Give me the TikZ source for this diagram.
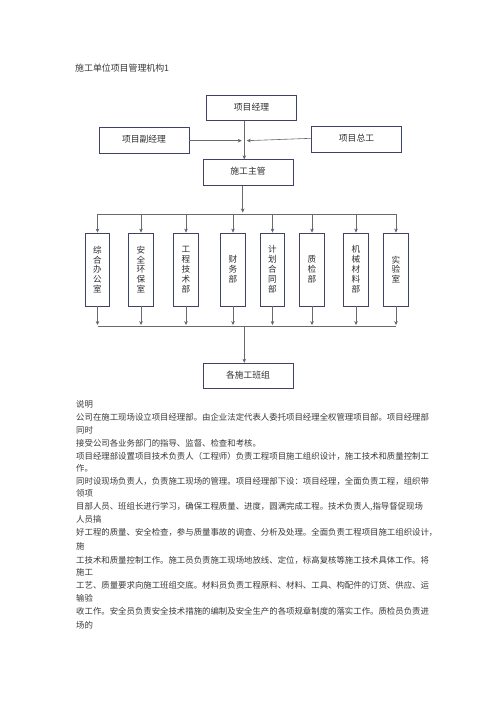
\documentclass[tikz,border=0pt]{standalone}
\usepackage{fontspec}
\setmainfont{Noto Sans CJK SC}
\usetikzlibrary{arrows.meta,calc}
\definecolor{boxc}{RGB}{62,66,104}
\definecolor{linec}{RGB}{105,105,110}
\definecolor{txtc}{RGB}{45,45,45}
\newcommand\vtight{\lineskiplimit=-20pt\relax}
\tikzset{
  hbox/.style={draw=boxc,line width=0.9pt,minimum width=90pt,minimum height=25.5pt,inner sep=0pt,font=\fontsize{8.8pt}{10pt}\selectfont,text=txtc},
  vbox/.style={draw=boxc,line width=0.9pt,minimum width=24.5pt,minimum height=73pt,inner sep=0pt,font=\fontsize{8.6pt}{9.9pt}\selectfont,align=center,text=txtc,execute at begin node=\vtight},
  conn/.style={draw=linec,line width=0.6pt},
  arr/.style={conn,-{Stealth[length=4pt,width=3.6pt,fill=black]}},
  para/.style={anchor=west,inner sep=0pt,font=\fontsize{8.4pt}{10pt}\selectfont,text=black!78},
}
\begin{document}
\begin{tikzpicture}[x=1pt,y=-1pt]
\useasboundingbox (0,0) rectangle (496,702);
\node[para,font=\fontsize{8.9pt}{10pt}\selectfont] (title) at (75,68) {施工单位项目管理机构1};
% top boxes
\node[hbox] (pm) at (251.5,108) {\raisebox{3pt}{项目经理}};
\node[hbox] (dpm) at (144,140.5) {\raisebox{3pt}{项目副经理}};
\node[hbox] (ce) at (356.5,139.5) {\raisebox{3pt}{项目总工}};
\node[hbox] (sup) at (248,172.5) {\raisebox{3pt}{施工主管}};
\node[hbox] (team) at (248,376) {\raisebox{2pt}{各施工班组}};
% department boxes
\node[vbox] (d1) at (97.5,269.5) {综\\合\\办\\公\\室};
\node[vbox] (d2) at (141,269.5) {安\\全\\环\\保\\室};
\node[vbox] (d3) at (186,269.5) {工\\程\\技\\术\\部};
\node[vbox] (d4) at (233,269.5) {财\\务\\部};
\node[vbox] (d5) at (272.5,269.5) {计\\划\\合\\同\\部};
\node[vbox] (d6) at (312,269.5) {质\\检\\部};
\node[vbox] (d7) at (356,269.5) {机\\械\\材\\料\\部};
\node[vbox] (d8) at (396,269.5) {实\\验\\室};
% connectors top
\coordinate (xa) at (244.3,0);
\coordinate (xb) at (242.7,0);
\coordinate (jl) at (241.8,140.7);
\coordinate (jr) at (246.8,140.7);
\coordinate (bt) at (0,214);
\coordinate (btj) at (242.7,212.5);
\coordinate (bb) at (0,326);
\coordinate (bbj) at (244.3,326);
\draw[arr] (pm.south -| xa) -- (sup.north -| xa);
\draw[arr] (dpm.east |- jl) -- (jl);
\draw[arr] ($(ce.west)+(0,-1.2)$) -- (jr);
% top bus
\draw[arr] (sup.south -| xb) -- (btj);
\draw[conn] (d1.north |- bt) -- (d8.north |- bt);
\foreach \d in {d1,d2,d3,d4,d5,d6,d7,d8}{
  \draw[arr] (\d.north |- bt) -- (\d.north);
}
% bottom bus
\foreach \d in {d1,d2,d3,d4,d5,d6,d7,d8}{
  \draw[arr] (\d.south) -- ($(\d.south |- bb)+(0,-1)$);
}
\draw[conn] (d1.south |- bb) -- (d8.south |- bb);
\draw[arr] (bbj) -- (team.north -| xa);
% paragraph
\node[para] (p0) at (76,404) {说明};
\node[para] (p1) at (76,417) {公司在施工现场设立项目经理部。由企业法定代表人委托项目经理全权管理项目部。项目经理部};
\node[para] (p2) at (76,430) {同时};
\node[para] (p3) at (76,443) {接受公司各业务部门的指导、监督、检查和考核。};
\node[para] (p4) at (76,456) {项目经理部设置项目技术负责人（工程师）负责工程项目施工组织设计，施工技术和质量控制工};
\node[para] (p5) at (76,468.5) {作。};
\node[para] (p6) at (76,481) {同时设现场负责人，负责施工现场的管理。项目经理部下设：项目经理，全面负责工程，组织带};
\node[para] (p7) at (76,493.5) {领项};
\node[para] (p8) at (76,506.5) {目部人员、班组长进行学习，确保工程质量、进度，圆满完成工程。技术负责人,指导督促现场};
\node[para] (p9) at (76,519) {人员搞};
\node[para] (p10) at (76,532) {好工程的质量、安全检查，参与质量事故的调查、分析及处理。全面负责工程项目施工组织设计，};
\node[para] (p11) at (76,546) {施};
\node[para] (p12) at (76,560) {工技术和质量控制工作。施工员负责施工现场地放线、定位，标高复核等施工技术具体工作。将};
\node[para] (p13) at (76,572.5) {施工};
\node[para] (p14) at (76,585.5) {工艺、质量要求向施工班组交底。材料员负责工程原料、材料、工具、构配件的订货、供应、运};
\node[para] (p15) at (76,598) {输验};
\node[para] (p16) at (76,611.5) {收工作。安全员负责安全技术措施的编制及安全生产的各项规章制度的落实工作。质检员负责进};
\node[para] (p17) at (76,625) {场的};
\end{tikzpicture}
\end{document}
